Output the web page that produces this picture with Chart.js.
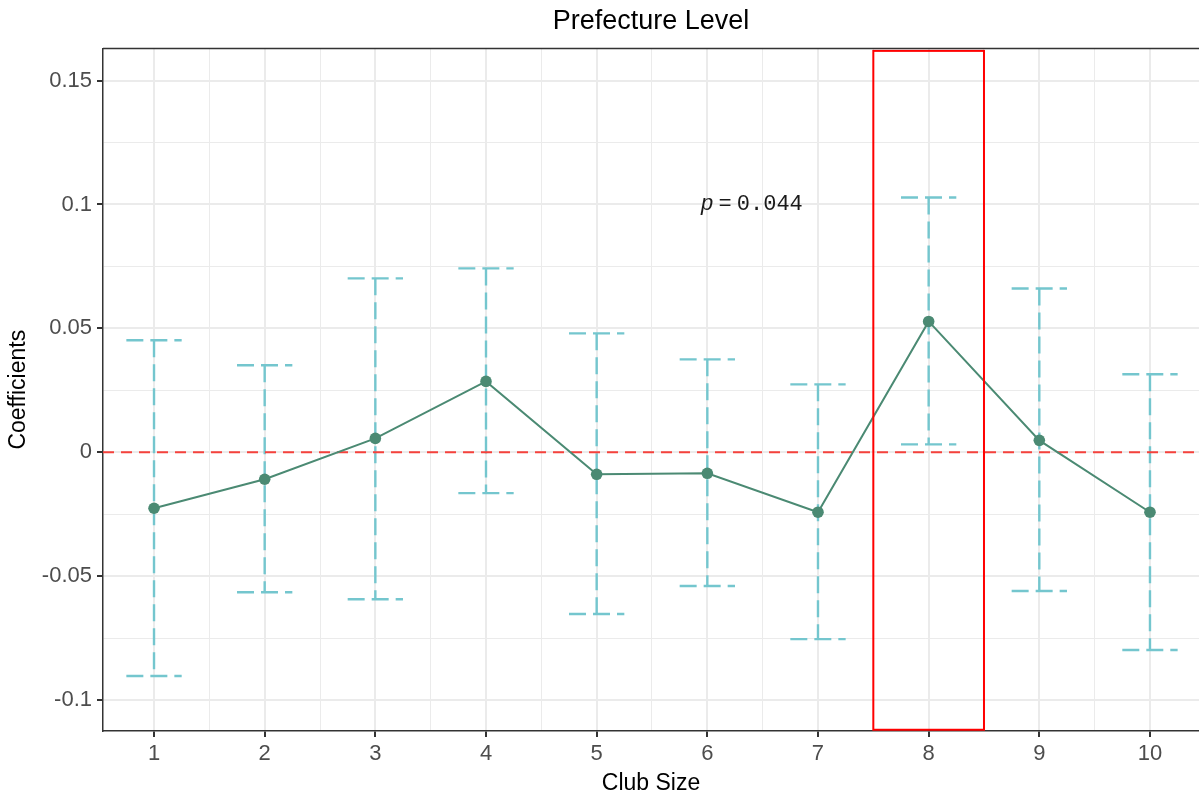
<!DOCTYPE html>
<html>
<head>
<meta charset="utf-8">
<title>Prefecture Level</title>
<script src="https://cdn.jsdelivr.net/npm/chart.js@4/dist/chart.umd.min.js"></script>
<style>
  html, body { margin: 0; padding: 0; background: #ffffff; }
  canvas { display: block; }
</style>
</head>
<body>
<canvas id="coef_chart" width="1199" height="798"></canvas>
<script>
// club size categories and estimated coefficients with confidence bounds
const clubSizes = [1, 2, 3, 4, 5, 6, 7, 8, 9, 10];
const coefficients = [-0.0226, -0.0109, 0.0056, 0.0286, -0.0089, -0.0085, -0.0242, 0.0528, 0.0048, -0.0242];
const ciLower = [-0.0903, -0.0565, -0.0593, -0.0165, -0.0653, -0.054, -0.0754, 0.0032, -0.056, -0.0798];
const ciUpper = [0.0452, 0.0351, 0.0702, 0.0742, 0.048, 0.0375, 0.0274, 0.1028, 0.0661, 0.0315];

// axis ticks
const yTickValues = [-0.1, -0.05, 0, 0.05, 0.1, 0.15];
const yTickLabels = ["-0.1", "-0.05", "0", "0.05", "0.1", "0.15"];
const xTickLabels = clubSizes.map((v) => String(v));

// highlighted club size and p-value note
const highlightX = [7.5, 8.5];
const highlightY = [-0.112, 0.162];
const pNote = { x: 6.4, y: 0.1, value: "0.044" };

const xLimits = [0.539, 10.443];
const yLimits = [-0.1125, 0.163];
const capHalf = 0.25;

const GREEN = "#4b8a73";
const CYAN = "#74c6ce";
const SANS = '"Liberation Sans", Arial, sans-serif';

const isNear = (a, b) => Math.abs(a - b) < 1e-6;
const isMajorY = (v) => yTickValues.some((t) => isNear(t, v));
const isMajorX = (v) => clubSizes.some((t) => isNear(t, v));

// error bars: one vertical dashed line and two caps per club size
const errorSets = [];
clubSizes.forEach((x, i) => {
  const common = {
    borderColor: CYAN,
    borderWidth: 2.4,
    borderDash: [17, 7],
    pointRadius: 0,
    fill: false,
    tension: 0,
  };
  errorSets.push({ ...common, data: [{ x: x, y: ciUpper[i] }, { x: x, y: ciLower[i] }] });
  errorSets.push({ ...common, data: [{ x: x - capHalf, y: ciUpper[i] }, { x: x + capHalf, y: ciUpper[i] }] });
  errorSets.push({ ...common, data: [{ x: x - capHalf, y: ciLower[i] }, { x: x + capHalf, y: ciLower[i] }] });
});

// extras: panel top border, red box, p-value text
const extras = {
  id: "extras",
  afterDatasetsDraw(chart) {
    const { ctx, chartArea, scales } = chart;
    const x = scales.x;
    const y = scales.y;
    ctx.save();
    // highlight box
    const x0 = x.getPixelForValue(highlightX[0]);
    const x1 = x.getPixelForValue(highlightX[1]);
    const y0 = y.getPixelForValue(highlightY[1]);
    const y1 = y.getPixelForValue(highlightY[0]);
    ctx.strokeStyle = "#ff0000";
    ctx.lineWidth = 2;
    ctx.strokeRect(x0, y0, x1 - x0, y1 - y0);

    // p = 0.044
    const px = x.getPixelForValue(pNote.x);
    const py = y.getPixelForValue(pNote.y);
    const italic = 'italic 22px "Liberation Mono", monospace';
    const mono = '22px "Liberation Mono", monospace';
    const gap = 5;
    ctx.font = italic;
    const wP = ctx.measureText("p").width;
    ctx.font = mono;
    const wEq = ctx.measureText("=").width;
    const wVal = ctx.measureText(pNote.value).width;
    let cx = px - (wP + wEq + wVal + gap * 2) / 2;
    ctx.fillStyle = "#1a1a1a";
    ctx.textBaseline = "middle";
    ctx.textAlign = "left";
    ctx.font = italic;
    ctx.fillText("p", cx, py);
    cx += wP + gap;
    ctx.font = mono;
    ctx.fillText("=", cx, py);
    cx += wEq + gap;
    ctx.fillText(pNote.value, cx, py);

    // top border of the panel
    ctx.strokeStyle = "#333333";
    ctx.lineWidth = 1.5;
    ctx.beginPath();
    ctx.moveTo(chartArea.left, chartArea.top);
    ctx.lineTo(chartArea.right, chartArea.top);
    ctx.stroke();
    ctx.restore();
  },
};

const ctx = document.getElementById("coef_chart").getContext("2d");
const coefChart = new Chart(ctx, {
  type: "line",
  data: {
    datasets: [
      {
        data: clubSizes.map((x, i) => ({ x: x, y: coefficients[i] })),
        borderColor: GREEN,
        backgroundColor: GREEN,
        borderWidth: 2,
        pointRadius: 5.8,
        pointBorderWidth: 0,
        tension: 0,
        fill: false,
      },
      {
        // zero reference
        data: [{ x: xLimits[0], y: 0 }, { x: xLimits[1], y: 0 }],
        borderColor: "#f5423c",
        borderWidth: 2.2,
        borderDash: [11, 7],
        pointRadius: 0,
        fill: false,
      },
      ...errorSets,
    ],
  },
  options: {
    responsive: false,
    animation: false,
    layout: { padding: 0, autoPadding: false },
    plugins: {
      legend: { display: false },
      tooltip: { enabled: false },
      title: {
        display: true,
        fullSize: false,
        text: "Prefecture Level",
        color: "#000000",
        font: { family: SANS, size: 27, weight: "normal" },
        padding: { top: 5, bottom: 11 },
      },
    },
    scales: {
      x: {
        type: "linear",
        min: xLimits[0],
        max: xLimits[1],
        afterFit: (scale) => {
          scale.height = 67;
          scale.paddingLeft = 0;
          scale.paddingRight = 0;
        },
        afterBuildTicks: (scale) => {
          const ticks = [];
          for (let v = 1; v <= 10; v += 0.5) ticks.push({ value: v });
          scale.ticks = ticks;
        },
        ticks: {
          autoSkip: false,
          maxRotation: 0,
          color: "#4d4d4d",
          padding: 4,
          font: { family: SANS, size: 22 },
          callback: (value) => {
            const i = clubSizes.findIndex((c) => isNear(c, value));
            return i >= 0 ? xTickLabels[i] : "";
          },
        },
        grid: {
          color: "#ebebeb",
          lineWidth: (c) => (isMajorX(c.tick.value) ? 2 : 1),
          tickLength: 6,
          tickColor: (c) => (isMajorX(c.tick.value) ? "#333333" : "rgba(0,0,0,0)"),
          tickWidth: 2,
        },
        border: { display: true, color: "#333333", width: 1.5 },
        title: {
          display: true,
          text: "Club Size",
          color: "#000000",
          font: { family: SANS, size: 23 },
          padding: { top: 0, bottom: 1 },
        },
      },
      y: {
        type: "linear",
        min: yLimits[0],
        max: yLimits[1],
        afterFit: (scale) => {
          scale.width = 103;
        },
        afterBuildTicks: (scale) => {
          const ticks = [];
          yTickValues.forEach((v) => {
            ticks.push({ value: v });
            ticks.push({ value: v + 0.025 });
          });
          scale.ticks = ticks.filter((t) => t.value >= yLimits[0] && t.value <= yLimits[1]);
        },
        ticks: {
          autoSkip: false,
          color: "#4d4d4d",
          padding: 5,
          font: { family: SANS, size: 22 },
          callback: (value) => {
            const i = yTickValues.findIndex((t) => isNear(t, value));
            return i >= 0 ? yTickLabels[i] : "";
          },
        },
        grid: {
          color: "#ebebeb",
          lineWidth: (c) => (isMajorY(c.tick.value) ? 2 : 1),
          tickLength: 6,
          tickColor: (c) => (isMajorY(c.tick.value) ? "#333333" : "rgba(0,0,0,0)"),
          tickWidth: 2,
        },
        border: { display: true, color: "#333333", width: 1.5 },
        title: {
          display: true,
          text: "Coefficients",
          color: "#000000",
          font: { family: SANS, size: 23 },
          padding: { top: 5, bottom: 0 },
        },
      },
    },
  },
  plugins: [extras],
});
</script>
</body>
</html>
